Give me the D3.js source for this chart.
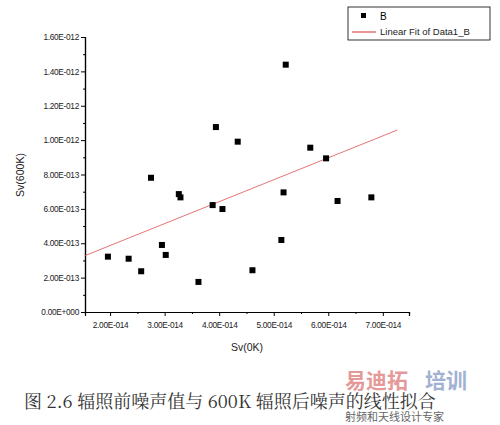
<!DOCTYPE html><html><head><meta charset="utf-8"><script src="https://cdn.jsdelivr.net/npm/d3@7"></script>
<style>body{margin:0;background:#fff}</style></head><body><svg width="500" height="425"></svg><script>
const xs=[1.96,2.34,2.57,2.75,2.95,3.02,3.26,3.29,3.62,3.88,3.94,4.06,4.34,4.61,5.14,5.18,5.22,5.67,5.96,6.17,6.79];
const ys=[0.322,0.31,0.237,0.781,0.39,0.332,0.686,0.667,0.175,0.622,1.076,0.599,0.991,0.243,0.419,0.696,1.439,0.956,0.894,0.646,0.667];
const fitX=[1.54,7.27];const fitSlope=0.1276, fitIntercept=0.1315;
const xTicks=[2,3,4,5,6,7];const xTickLabels=["2.00E-014","3.00E-014","4.00E-014","5.00E-014","6.00E-014","7.00E-014"];
const yTicks=[0,0.2,0.4,0.6,0.8,1.0,1.2,1.4,1.6];const yTickLabels=["0.00E+000","2.00E-013","4.00E-013","6.00E-013","8.00E-013","1.00E-012","1.20E-012","1.40E-012","1.60E-012"];
const svg=d3.select("svg");const F="Liberation Sans, Arial";
const x=d3.scaleLinear([1.54,7.48],[85,409]);const y=d3.scaleLinear([0,1.6],[312,37]);
svg.append("g").attr("transform","translate(0,312)").call(d3.axisBottom(x).tickValues(xTicks).tickFormat((d,i)=>xTickLabels[i]).tickSize(4).tickPadding(6));
svg.append("g").attr("transform","translate(0,312)").call(d3.axisBottom(x).tickValues(d3.range(1.5,7.5,0.5).filter(v=>v>1.54&&v%1)).tickFormat("").tickSize(2));
svg.append("g").attr("transform","translate(85,0)").call(d3.axisLeft(y).tickValues(yTicks).tickFormat((d,i)=>yTickLabels[i]).tickSize(4).tickPadding(2));
svg.append("g").attr("transform","translate(85,0)").call(d3.axisLeft(y).tickValues(d3.range(0.1,1.6,0.2)).tickFormat("").tickSize(2));
svg.selectAll(".domain").attr("stroke","#000").attr("stroke-width",1.2);svg.selectAll(".tick line").attr("stroke","#000");
svg.selectAll(".tick text").attr("font-family",F).attr("font-size",8.3).attr("fill","#222").attr("letter-spacing",-0.3);
svg.append("line").attr("x1",x(fitX[0])).attr("x2",x(fitX[1])).attr("y1",y(fitIntercept+fitSlope*fitX[0])).attr("y2",y(fitIntercept+fitSlope*fitX[1])).attr("stroke","#e05050").attr("stroke-width",0.8);
svg.selectAll("rect.p").data(xs).join("rect").attr("x",(d)=>x(d)-3).attr("y",(d,i)=>y(ys[i])-3).attr("width",6).attr("height",6).attr("fill","#000");
svg.append("text").attr("x",247).attr("y",351).attr("text-anchor","middle").attr("font-family",F).attr("font-size",10.5).attr("fill","#222").text("Sv(0K)");
svg.append("text").attr("transform","translate(24,175) rotate(-90)").attr("text-anchor","middle").attr("font-family",F).attr("font-size",10.5).attr("fill","#222").text("Sv(600K)");
svg.append("rect").attr("x",348).attr("y",7).attr("width",142).attr("height",33).attr("fill","#fff").attr("stroke","#000").attr("stroke-width",0.8);
svg.append("rect").attr("x",361).attr("y",13).attr("width",5).attr("height",5).attr("fill","#000");
svg.append("text").attr("x",380).attr("y",20).attr("font-family",F).attr("font-size",10).text("B");
svg.append("line").attr("x1",352).attr("x2",376).attr("y1",32).attr("y2",32).attr("stroke","#e05050").attr("stroke-width",1.2);
svg.append("text").attr("x",380).attr("y",35).attr("font-family",F).attr("font-size",9.5).attr("fill","#222").text("Linear Fit of Data1_B");
svg.append("text").attr("x",345).attr("y",388).attr("font-family","Noto Sans CJK SC").attr("font-size",21).attr("font-weight","bold").attr("fill","#e08080").attr("opacity",0.8).text("易迪拓");
svg.append("text").attr("x",425).attr("y",388).attr("font-family","Noto Sans CJK SC").attr("font-size",21).attr("font-weight","bold").attr("fill","#8aa0c8").attr("opacity",0.8).text("培训");
svg.append("text").attr("x",24).attr("y",408).attr("font-family","Noto Serif CJK SC, Noto Sans CJK SC").attr("font-size",18).attr("fill","#333").text("图 2.6 辐照前噪声值与 600K 辐照后噪声的线性拟合");
svg.append("text").attr("x",345).attr("y",421).attr("font-family","Noto Sans CJK SC").attr("font-size",11).attr("fill","#666").text("射频和天线设计专家");
</script></body></html>
